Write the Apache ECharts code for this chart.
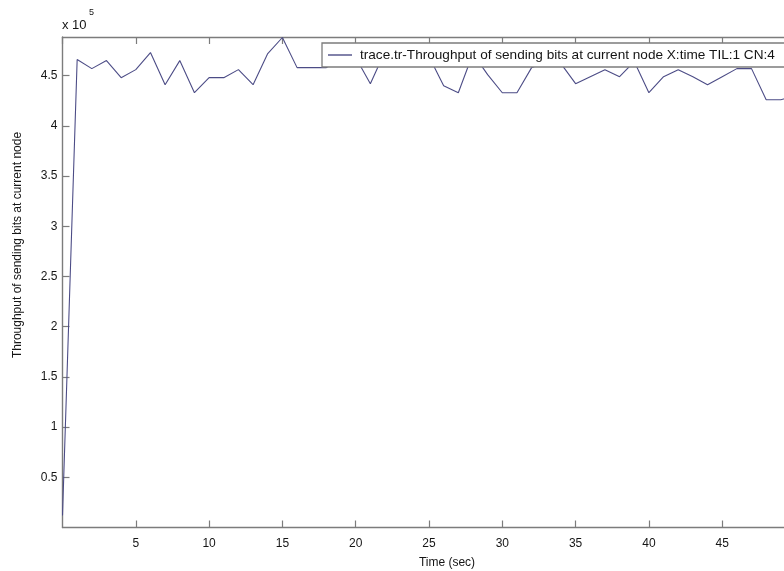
<!DOCTYPE html>
<html>
<head>
<meta charset="utf-8">
<script src="https://cdn.jsdelivr.net/npm/echarts@6/dist/echarts.min.js"></script>
<style>
  html, body { margin: 0; padding: 0; background: #fff; overflow: hidden; }
  /* the plot area runs a little past the right edge of the window */
  #chart { width: 820px; height: 571px; }
</style>
</head>
<body>
<div id="chart"></div>
<script>
// Sample times (seconds)
const timeSec = [0, 1, 2, 3, 4, 5, 6, 7, 8, 9, 10, 11, 12, 13, 14, 15, 16, 17, 18, 19,
  20, 21, 22, 23, 24, 25, 26, 27, 28, 29, 30, 31, 32, 33, 34, 35, 36, 37, 38, 39,
  40, 41, 42, 43, 44, 45, 46, 47, 48, 49, 50];

// Throughput of sending bits at current node (bits)
const throughputBits = [12000, 466000, 457000, 465000, 448000, 456000, 473000, 441000, 465000, 433000,
  448000, 448000, 456000, 441000, 472000, 488000, 458000, 458000, 458000, 466000,
  468000, 442000, 474000, 466000, 462000, 469000, 440000, 433000, 472000, 451000,
  433000, 433000, 458000, 464000, 462000, 442000, 449000, 456000, 449000, 464000,
  433000, 449000, 456000, 449000, 441000, 449000, 457000, 457000, 426000, 426000,
  430000];

const seriesName = 'trace.tr-Throughput of sending bits at current node X:time TIL:1 CN:4';
const xTitle = 'Time (sec)';
const yTitle = 'Throughput of sending bits at current node';
const scaleBase = 'x 10';
const scaleExp = '5';

const FONT = '"Liberation Sans", Arial, sans-serif';
const AXIS_COLOR = '#7c7c7c';
const TEXT_COLOR = '#151515';
const LINE_COLOR = '#4c4c86';

const chart = echarts.init(document.getElementById('chart'), null, { renderer: 'canvas' });

const axisCommon = {
  type: 'value',
  axisLine: { show: true, onZero: false, lineStyle: { color: AXIS_COLOR, width: 1.4 } },
  axisTick: { show: true, inside: true, length: 7, lineStyle: { color: AXIS_COLOR, width: 1.2 } },
  splitLine: { show: false }
};

chart.setOption({
  animation: false,
  backgroundColor: '#fff',
  grid: { left: 62.5, top: 37, width: 733, height: 490.5, containLabel: false },
  xAxis: [
    Object.assign({}, axisCommon, {
      position: 'bottom',
      min: 0, max: 50, interval: 5,
      axisLabel: {
        showMinLabel: false, margin: 10,
        color: TEXT_COLOR, fontSize: 12, fontFamily: FONT
      }
    }),
    Object.assign({}, axisCommon, {
      position: 'top',
      min: 0, max: 50, interval: 5,
      axisLabel: { show: false }
    })
  ],
  yAxis: [
    Object.assign({}, axisCommon, {
      position: 'left',
      min: 0, max: 488500, interval: 50000,
      axisLabel: {
        showMinLabel: false, showMaxLabel: false, margin: 5,
        color: TEXT_COLOR, fontSize: 12, fontFamily: FONT,
        formatter: v => String(v / 1e5)
      }
    })
  ],
  legend: {
    left: 322, top: 43,
    padding: [5, 20, 5, 6],
    backgroundColor: '#fff',
    borderColor: AXIS_COLOR, borderWidth: 1.3,
    itemWidth: 24, itemHeight: 1.4,
    textStyle: { color: TEXT_COLOR, fontSize: 13.6, fontFamily: FONT, padding: [0, 0, 0, 3] },
    data: [{ name: seriesName, icon: 'rect', itemStyle: { color: LINE_COLOR } }]
  },
  series: [{
    name: seriesName,
    type: 'line',
    xAxisIndex: 0,
    yAxisIndex: 0,
    symbol: 'none',
    lineStyle: { color: LINE_COLOR, width: 1.1 },
    itemStyle: { color: LINE_COLOR },
    data: timeSec.map((t, i) => [t, throughputBits[i]])
  }],
  graphic: [
    {
      type: 'text', left: 62, top: 19,
      style: { text: scaleBase, fill: TEXT_COLOR, font: '13px ' + FONT }
    },
    {
      type: 'text', left: 89, top: 8,
      style: { text: scaleExp, fill: TEXT_COLOR, font: '9px ' + FONT }
    },
    {
      type: 'text', x: 447, y: 563,
      style: { text: xTitle, fill: TEXT_COLOR, font: '12px ' + FONT, align: 'center', verticalAlign: 'middle' }
    },
    {
      type: 'text', x: 18, y: 245, rotation: Math.PI / 2,
      style: { text: yTitle, fill: TEXT_COLOR, font: '12px ' + FONT, align: 'center', verticalAlign: 'middle' }
    }
  ]
});
</script>
</body>
</html>
